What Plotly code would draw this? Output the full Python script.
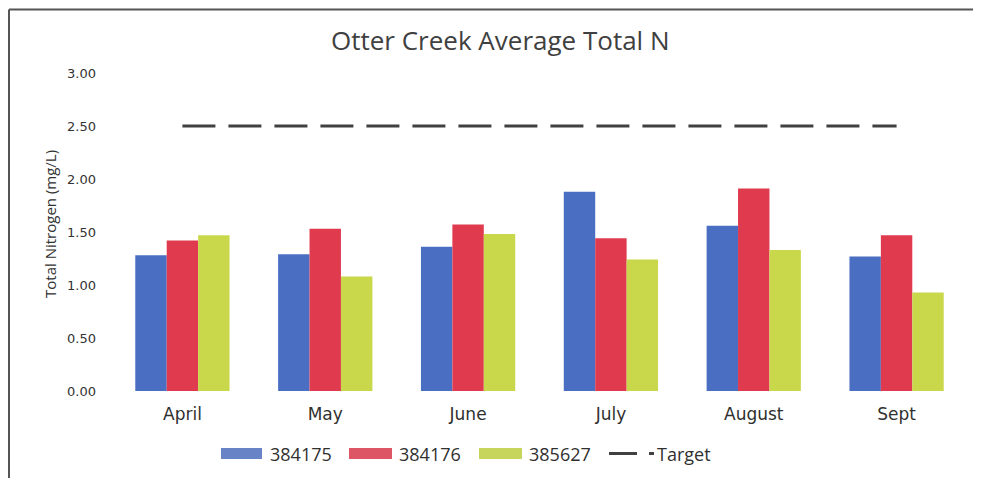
import plotly.graph_objects as go

months = ["April", "May", "June", "July", "August", "Sept"]
s384175 = [1.28, 1.29, 1.36, 1.88, 1.56, 1.27]
s384176 = [1.42, 1.53, 1.57, 1.44, 1.91, 1.47]
s385627 = [1.47, 1.08, 1.48, 1.24, 1.33, 0.93]
target = [2.50, 2.50, 2.50, 2.50, 2.50, 2.50]
series_names = ["384175", "384176", "385627"]
y_ticks = [0, 0.5, 1.0, 1.5, 2.0, 2.5, 3.0]

bar_colors = ["#4a6fc2", "#e03a4e", "#c9d84b"]
legend_colors = ["#6884c6", "#dc5666", "#c7d55c"]
dark = "#404040"

# page is rendered with an 8px body margin; lay out in page pixels
O = 8
PW, PH = 981, 478
W, H = PW - O, PH - O
L = 111 - O
T = 73 - O
R = W - (968 - O)
B = H - (391 - O)
pw, ph = W - L - R, H - T - B


def px(x):
    return (x - O - L) / pw


def py(y):
    return (H - B - (y - O)) / ph


fig = go.Figure()
for name, vals, col in zip(series_names, [s384175, s384176, s385627], bar_colors):
    fig.add_trace(go.Bar(x=months, y=vals, name=name, marker=dict(color=col, line=dict(width=0)),
                         showlegend=False))

fig.add_trace(go.Scatter(x=months, y=target, mode="lines", name="Target",
                         line=dict(color=dark, width=3, dash="33px,13px"), showlegend=False))

shapes = [
    dict(type="line", xref="paper", yref="paper", x0=px(9), x1=px(981), y0=py(9.5), y1=py(9.5),
         line=dict(color="#555555", width=2)),
    dict(type="line", xref="paper", yref="paper", x0=px(9), x1=px(9), y0=py(9.5), y1=py(478),
         line=dict(color="#555555", width=2)),
]
annotations = []

ly = 453.5
swatches = [(221, 262, 268), (349, 392, 397), (479, 522, 527)]
for (x0, x1, tx), name, col in zip(swatches, series_names, legend_colors):
    shapes.append(dict(type="rect", xref="paper", yref="paper", x0=px(x0), x1=px(x1),
                       y0=py(ly + 5.5), y1=py(ly - 5.5), fillcolor=col, line=dict(width=0)))
    annotations.append(dict(text=name, xref="paper", yref="paper", x=px(tx), y=py(ly),
                            xanchor="left", yanchor="middle", showarrow=False,
                            font=dict(family="Open Sans", size=18, color="#303030")))
shapes.append(dict(type="line", xref="paper", yref="paper", x0=px(609), x1=px(637),
                   y0=py(ly), y1=py(ly), line=dict(color=dark, width=3)))
shapes.append(dict(type="line", xref="paper", yref="paper", x0=px(649), x1=px(654),
                   y0=py(ly), y1=py(ly), line=dict(color=dark, width=3)))
annotations.append(dict(text="Target", xref="paper", yref="paper", x=px(655), y=py(ly),
                        xanchor="left", yanchor="middle", showarrow=False,
                        font=dict(family="Open Sans", size=18, color="#303030")))

annotations.append(dict(text="Total Nitrogen (mg/L)", xref="paper", yref="paper",
                        x=px(50), y=py(224), textangle=-90, showarrow=False,
                        xanchor="center", yanchor="middle",
                        font=dict(family="Open Sans", size=15, color="#303030")))

annotations.append(dict(text="Otter Creek Average Total N", xref="paper", yref="paper",
                        x=px(500), y=py(40), showarrow=False,
                        xanchor="center", yanchor="middle",
                        font=dict(family="Open Sans", size=26, color=dark)))

fig.update_layout(
    width=W, height=H,
    margin=dict(l=L, r=R, t=T, b=B),
    paper_bgcolor="white", plot_bgcolor="white",
    barmode="group", bargap=0.34, bargroupgap=0,
    xaxis=dict(showgrid=False, showline=False, zeroline=False, ticks="",
               tickfont=dict(family="DejaVu Sans", size=17, color="#303030"),
               ticklabelstandoff=11),
    yaxis=dict(range=[0, 3], tickvals=y_ticks, tickformat=".2f", showgrid=False,
               showline=False, zeroline=False, ticks="",
               ticklabelstandoff=14,
               tickfont=dict(family="DejaVu Sans", size=13, color="#333333")),
    shapes=shapes, annotations=annotations,
)

fig.write_html("out.html")
